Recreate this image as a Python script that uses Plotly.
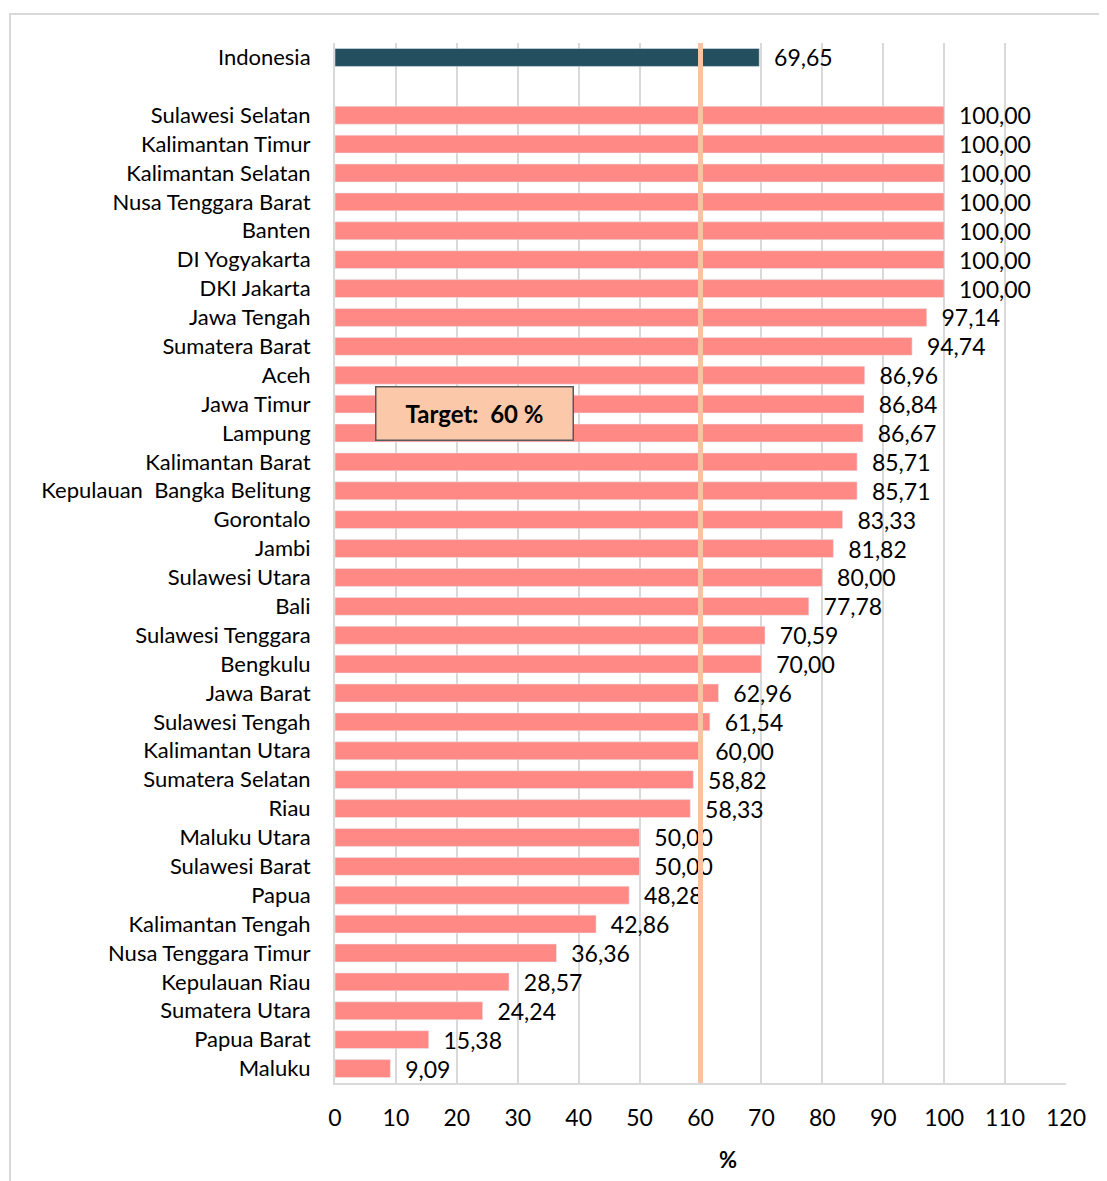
import plotly.graph_objects as go

indonesia_label = "Indonesia"
indonesia_value = 69.65
provinces = ["Sulawesi Selatan", "Kalimantan Timur", "Kalimantan Selatan", "Nusa Tenggara Barat",
             "Banten", "DI Yogyakarta", "DKI Jakarta", "Jawa Tengah", "Sumatera Barat", "Aceh",
             "Jawa Timur", "Lampung", "Kalimantan Barat", "Kepulauan  Bangka Belitung", "Gorontalo",
             "Jambi", "Sulawesi Utara", "Bali", "Sulawesi Tenggara", "Bengkulu", "Jawa Barat",
             "Sulawesi Tengah", "Kalimantan Utara", "Sumatera Selatan", "Riau", "Maluku Utara",
             "Sulawesi Barat", "Papua", "Kalimantan Tengah", "Nusa Tenggara Timur", "Kepulauan Riau",
             "Sumatera Utara", "Papua Barat", "Maluku"]
values = [100.00, 100.00, 100.00, 100.00, 100.00, 100.00, 100.00, 97.14, 94.74, 86.96,
          86.84, 86.67, 85.71, 85.71, 83.33, 81.82, 80.00, 77.78, 70.59, 70.00,
          62.96, 61.54, 60.00, 58.82, 58.33, 50.00, 50.00, 48.28, 42.86, 36.36,
          28.57, 24.24, 15.38, 9.09]
target = 60
x_ticks = list(range(0, 121, 10))

FONT = "Lato"
gap_cat = " "
cat_order = [indonesia_label, gap_cat] + provinces


def fmt(v):
    return f"{v:.2f}".replace(".", ",")


pad = "\u00a0\u00a0"

fig = go.Figure()
fig.add_trace(go.Bar(
    y=[indonesia_label], x=[indonesia_value], orientation="h",
    marker=dict(color="#234F5E"),
    text=[fmt(indonesia_value)], texttemplate=pad + "%{text}",
    textposition="outside", constraintext="none", cliponaxis=False,
    textfont=dict(family=FONT, size=23, color="#000000"),
    showlegend=False, hoverinfo="skip",
))
fig.add_trace(go.Bar(
    y=provinces, x=values, orientation="h",
    marker=dict(color="#FF8A85"),
    text=[fmt(v) for v in values], texttemplate=pad + "%{text}",
    textposition="outside", constraintext="none", cliponaxis=False,
    textfont=dict(family=FONT, size=23, color="#000000"),
    showlegend=False, hoverinfo="skip",
))

fig.add_shape(type="line", xref="x", yref="paper", x0=target, x1=target, y0=0, y1=1,
              line=dict(color="#F9C3A1", width=5), layer="above")

# outer chart border (right and bottom edges fall outside the picture)
fig.add_shape(type="rect", xref="paper", yref="paper",
              x0=-0.4446, x1=1.08, y0=-0.11, y1=1.0279,
              line=dict(color="#D9D9D9", width=2), fillcolor="rgba(0,0,0,0)", layer="below")

fig.add_annotation(xref="paper", yref="paper", x=0.1915, y=0.644,
                   text=f"<b>Target:  {target} %</b>", showarrow=False,
                   font=dict(family=FONT, size=24, color="#000000"),
                   bgcolor="#FBC8A9", bordercolor="#595959", borderwidth=1.5,
                   width=194, height=50, xanchor="center", yanchor="middle")

fig.add_annotation(xref="paper", yref="paper", x=0.5376, y=-0.0735,
                   text="<b>%</b>", showarrow=False,
                   font=dict(family=FONT, size=22, color="#000000"),
                   xanchor="center", yanchor="middle")

fig.update_layout(
    width=1099, height=1173,
    margin=dict(l=327, r=41, t=35, b=98),
    paper_bgcolor="white", plot_bgcolor="white",
    bargap=0.38,
    font=dict(family=FONT, size=22, color="#000000"),
    xaxis=dict(range=[0, 120], tickvals=x_ticks, showgrid=True, gridcolor="#D9D9D9", gridwidth=1.5,
               showline=True, linecolor="#D9D9D9", linewidth=2, zeroline=False,
               ticks="", ticklabelstandoff=13, tickfont=dict(family=FONT, size=23)),
    yaxis=dict(categoryorder="array", categoryarray=cat_order, autorange="reversed",
               showgrid=False, showline=True, linecolor="#D9D9D9", linewidth=2,
               ticks="", ticklabelstandoff=18, tickfont=dict(family=FONT, size=22)),
)

fig.write_html("out.html")
